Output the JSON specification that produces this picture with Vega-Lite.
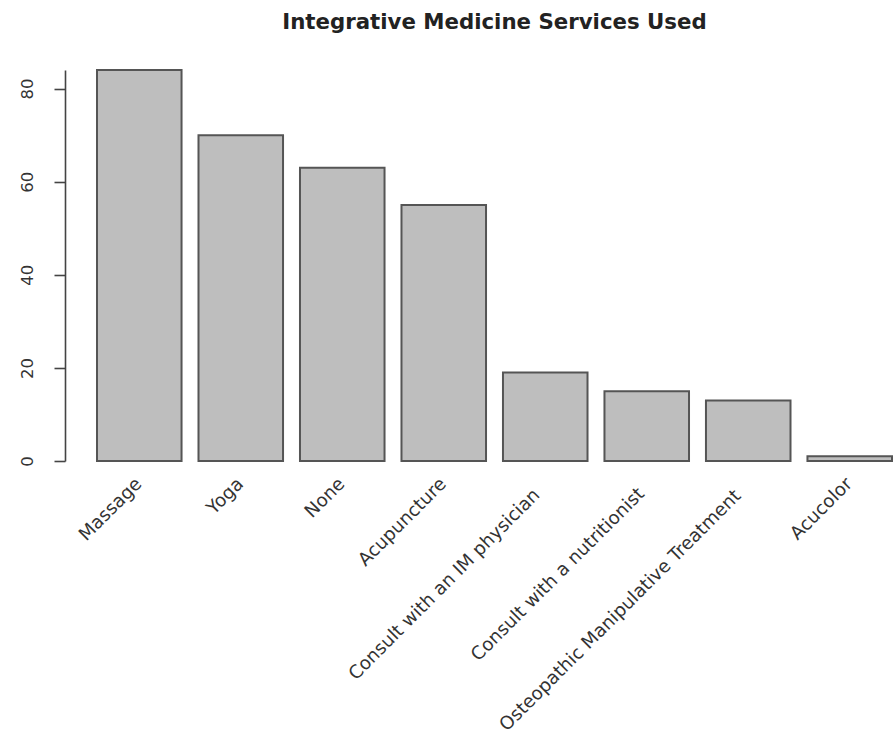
{
  "$schema": "https://vega.github.io/schema/vega-lite/v6.json",
  "width": 795,
  "height": 391,
  "autosize": {"type": "none"},
  "padding": {"left": 97, "top": 70, "right": 3, "bottom": 280},
  "background": "white",
  "title": {
    "text": "Integrative Medicine Services Used",
    "font": "DejaVu Sans",
    "fontSize": 21.3,
    "fontWeight": "bold",
    "color": "#222222",
    "anchor": "middle",
    "offset": 36
  },
  "data": {
    "values": [
      {"service": "Massage", "count": 84},
      {"service": "Yoga", "count": 70},
      {"service": "None", "count": 63},
      {"service": "Acupuncture", "count": 55},
      {"service": "Consult with an IM physician", "count": 19},
      {"service": "Consult with a nutritionist", "count": 15},
      {"service": "Osteopathic Manipulative Treatment", "count": 13},
      {"service": "Acucolor", "count": 1}
    ]
  },
  "mark": {"type": "bar", "fill": "#bebebe", "stroke": "#555555", "strokeWidth": 2},
  "encoding": {
    "x": {
      "field": "service",
      "type": "nominal",
      "sort": null,
      "scale": {"paddingInner": 0.167, "paddingOuter": 0},
      "axis": {
        "title": null,
        "domain": false,
        "ticks": false,
        "labelAngle": -45,
        "labelAlign": "right",
        "labelBaseline": "middle",
        "labelPadding": {
          "condition": [
            {"test": "datum.value === 'Consult with an IM physician'", "value": 31},
            {"test": "datum.value === 'Consult with a nutritionist'", "value": 30},
            {"test": "datum.value === 'Osteopathic Manipulative Treatment'", "value": 32}
          ],
          "value": 20
        },
        "labelOffset": {
          "condition": [
            {"test": "datum.value === 'Consult with an IM physician'", "value": -8},
            {"test": "datum.value === 'Consult with a nutritionist'", "value": -5},
            {"test": "datum.value === 'Osteopathic Manipulative Treatment'", "value": -10}
          ],
          "value": 0
        },
        "labelFont": "DejaVu Sans",
        "labelFontSize": 18.3,
        "labelColor": "#333333",
        "labelLimit": 600
      }
    },
    "y": {
      "field": "count",
      "type": "quantitative",
      "scale": {"domain": [0, 84], "nice": false},
      "axis": {
        "title": null,
        "values": [0, 20, 40, 60, 80],
        "grid": false,
        "offset": 32,
        "domainColor": "#444444",
        "domainWidth": 1.6,
        "tickColor": "#444444",
        "tickWidth": 1.6,
        "tickSize": 11,
        "labelAngle": -90,
        "labelAlign": "center",
        "labelBaseline": "bottom",
        "labelPadding": 19,
        "labelFont": "DejaVu Sans",
        "labelFontSize": 16.5,
        "labelColor": "#333333"
      }
    }
  },
  "config": {"view": {"stroke": null}}
}
